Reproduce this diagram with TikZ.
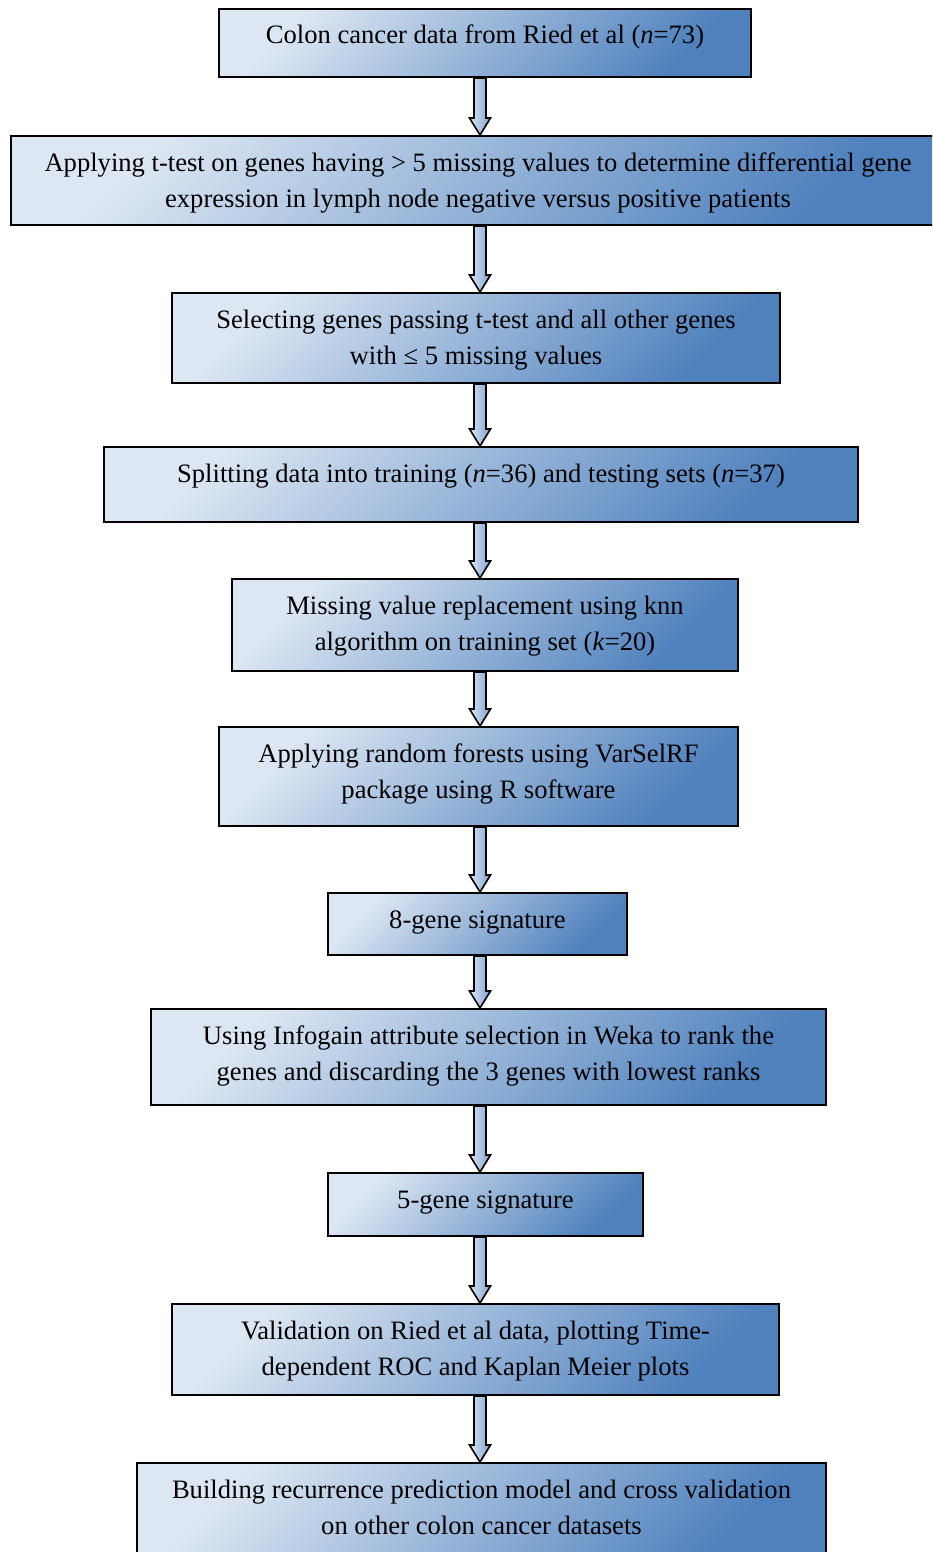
\documentclass[tikz,border=0pt]{standalone}
\usepackage{fontspec}
\setmainfont{Liberation Serif}
\usetikzlibrary{calc}
\definecolor{boxlight}{HTML}{DDE7F3}
\definecolor{boxdark}{HTML}{4F81BD}
\definecolor{arrowdark}{HTML}{7FA1D2}
% block arrow straight down the spine, from one box to the next
\newcommand{\flowarrow}[2]{\draw[flowarr] ($(spine|-#1.south)+(-3,0)$) -- ($(spine|-#2.north)+(-3,-8.5)$) -- ++(-2.25,0) -- (spine|-#2.north) -- ++(5.25,-8.5) -- ++(-2.25,0) -- ($(spine|-#1.south)+(3,0)$) -- cycle;}

\begin{document}
\begin{tikzpicture}[x=1pt,y=-1pt,stage/.style={draw=black, line width=1pt, top color=boxlight, bottom color=boxdark, shading angle=45, align=center, anchor=north, inner sep=0pt, text height=17.5pt, font=\fontsize{13.3}{18}\selectfont},stagetwo/.style={stage, text height=35.5pt},flowarr/.style={draw=black, line width=0.8pt, left color=boxlight, right color=arrowdark, line join=miter}]
\useasboundingbox (0,0) rectangle (466,776); \clip (0,0) rectangle (466,776);
\coordinate (spine) at (240,0);
\node[stage, minimum width=266pt, text depth=16.5pt] (src) at (242.5,4) {Colon cancer data from Ried et al (\textit{n}=73)};
\node[stagetwo, minimum width=467pt, text depth=9pt] (ttest) at (239,67.5) {Applying t-test on genes having > 5 missing values to determine differential gene\\expression in lymph node negative versus positive patients};
\node[stagetwo, minimum width=304pt, text depth=9.5pt] (select) at (238,146) {Selecting genes passing t-test and all other genes\\with ≤ 5 missing values};
\node[stage, minimum width=377pt, text depth=20pt] (split) at (240.5,223) {Splitting data into training (\textit{n}=36) and testing sets (\textit{n}=37)};
\node[stagetwo, minimum width=253pt, text depth=10.5pt] (impute) at (242.5,289) {Missing value replacement using knn\\algorithm on training set (\textit{k}=20)};
\node[stagetwo, minimum width=259.5pt, text depth=14pt] (forest) at (239.25,363) {Applying random forests using VarSelRF\\package using R software};
\node[stage, minimum width=149.5pt, text depth=13.5pt] (sig8) at (238.75,446) {8-gene signature};
\node[stagetwo, minimum width=337.5pt, text depth=12.5pt] (infogain) at (244.25,504) {Using Infogain attribute selection in Weka to rank the\\genes and discarding the 3 genes with lowest ranks};
\node[stage, minimum width=157.5pt, text depth=14pt] (sig5) at (242.75,586) {5-gene signature};
\node[stagetwo, minimum width=303.5pt, text depth=10pt] (valid) at (237.75,651.5) {Validation on Ried et al data, plotting Time-\\dependent ROC and Kaplan Meier plots};
\node[stagetwo, minimum width=344.5pt, text depth=10.5pt] (model) at (240.75,731) {Building recurrence prediction model and cross validation\\on other colon cancer datasets};
\flowarrow{src}{ttest} \flowarrow{ttest}{select} \flowarrow{select}{split} \flowarrow{split}{impute} \flowarrow{impute}{forest}
\flowarrow{forest}{sig8} \flowarrow{sig8}{infogain} \flowarrow{infogain}{sig5} \flowarrow{sig5}{valid} \flowarrow{valid}{model}
\end{tikzpicture}
\end{document}
